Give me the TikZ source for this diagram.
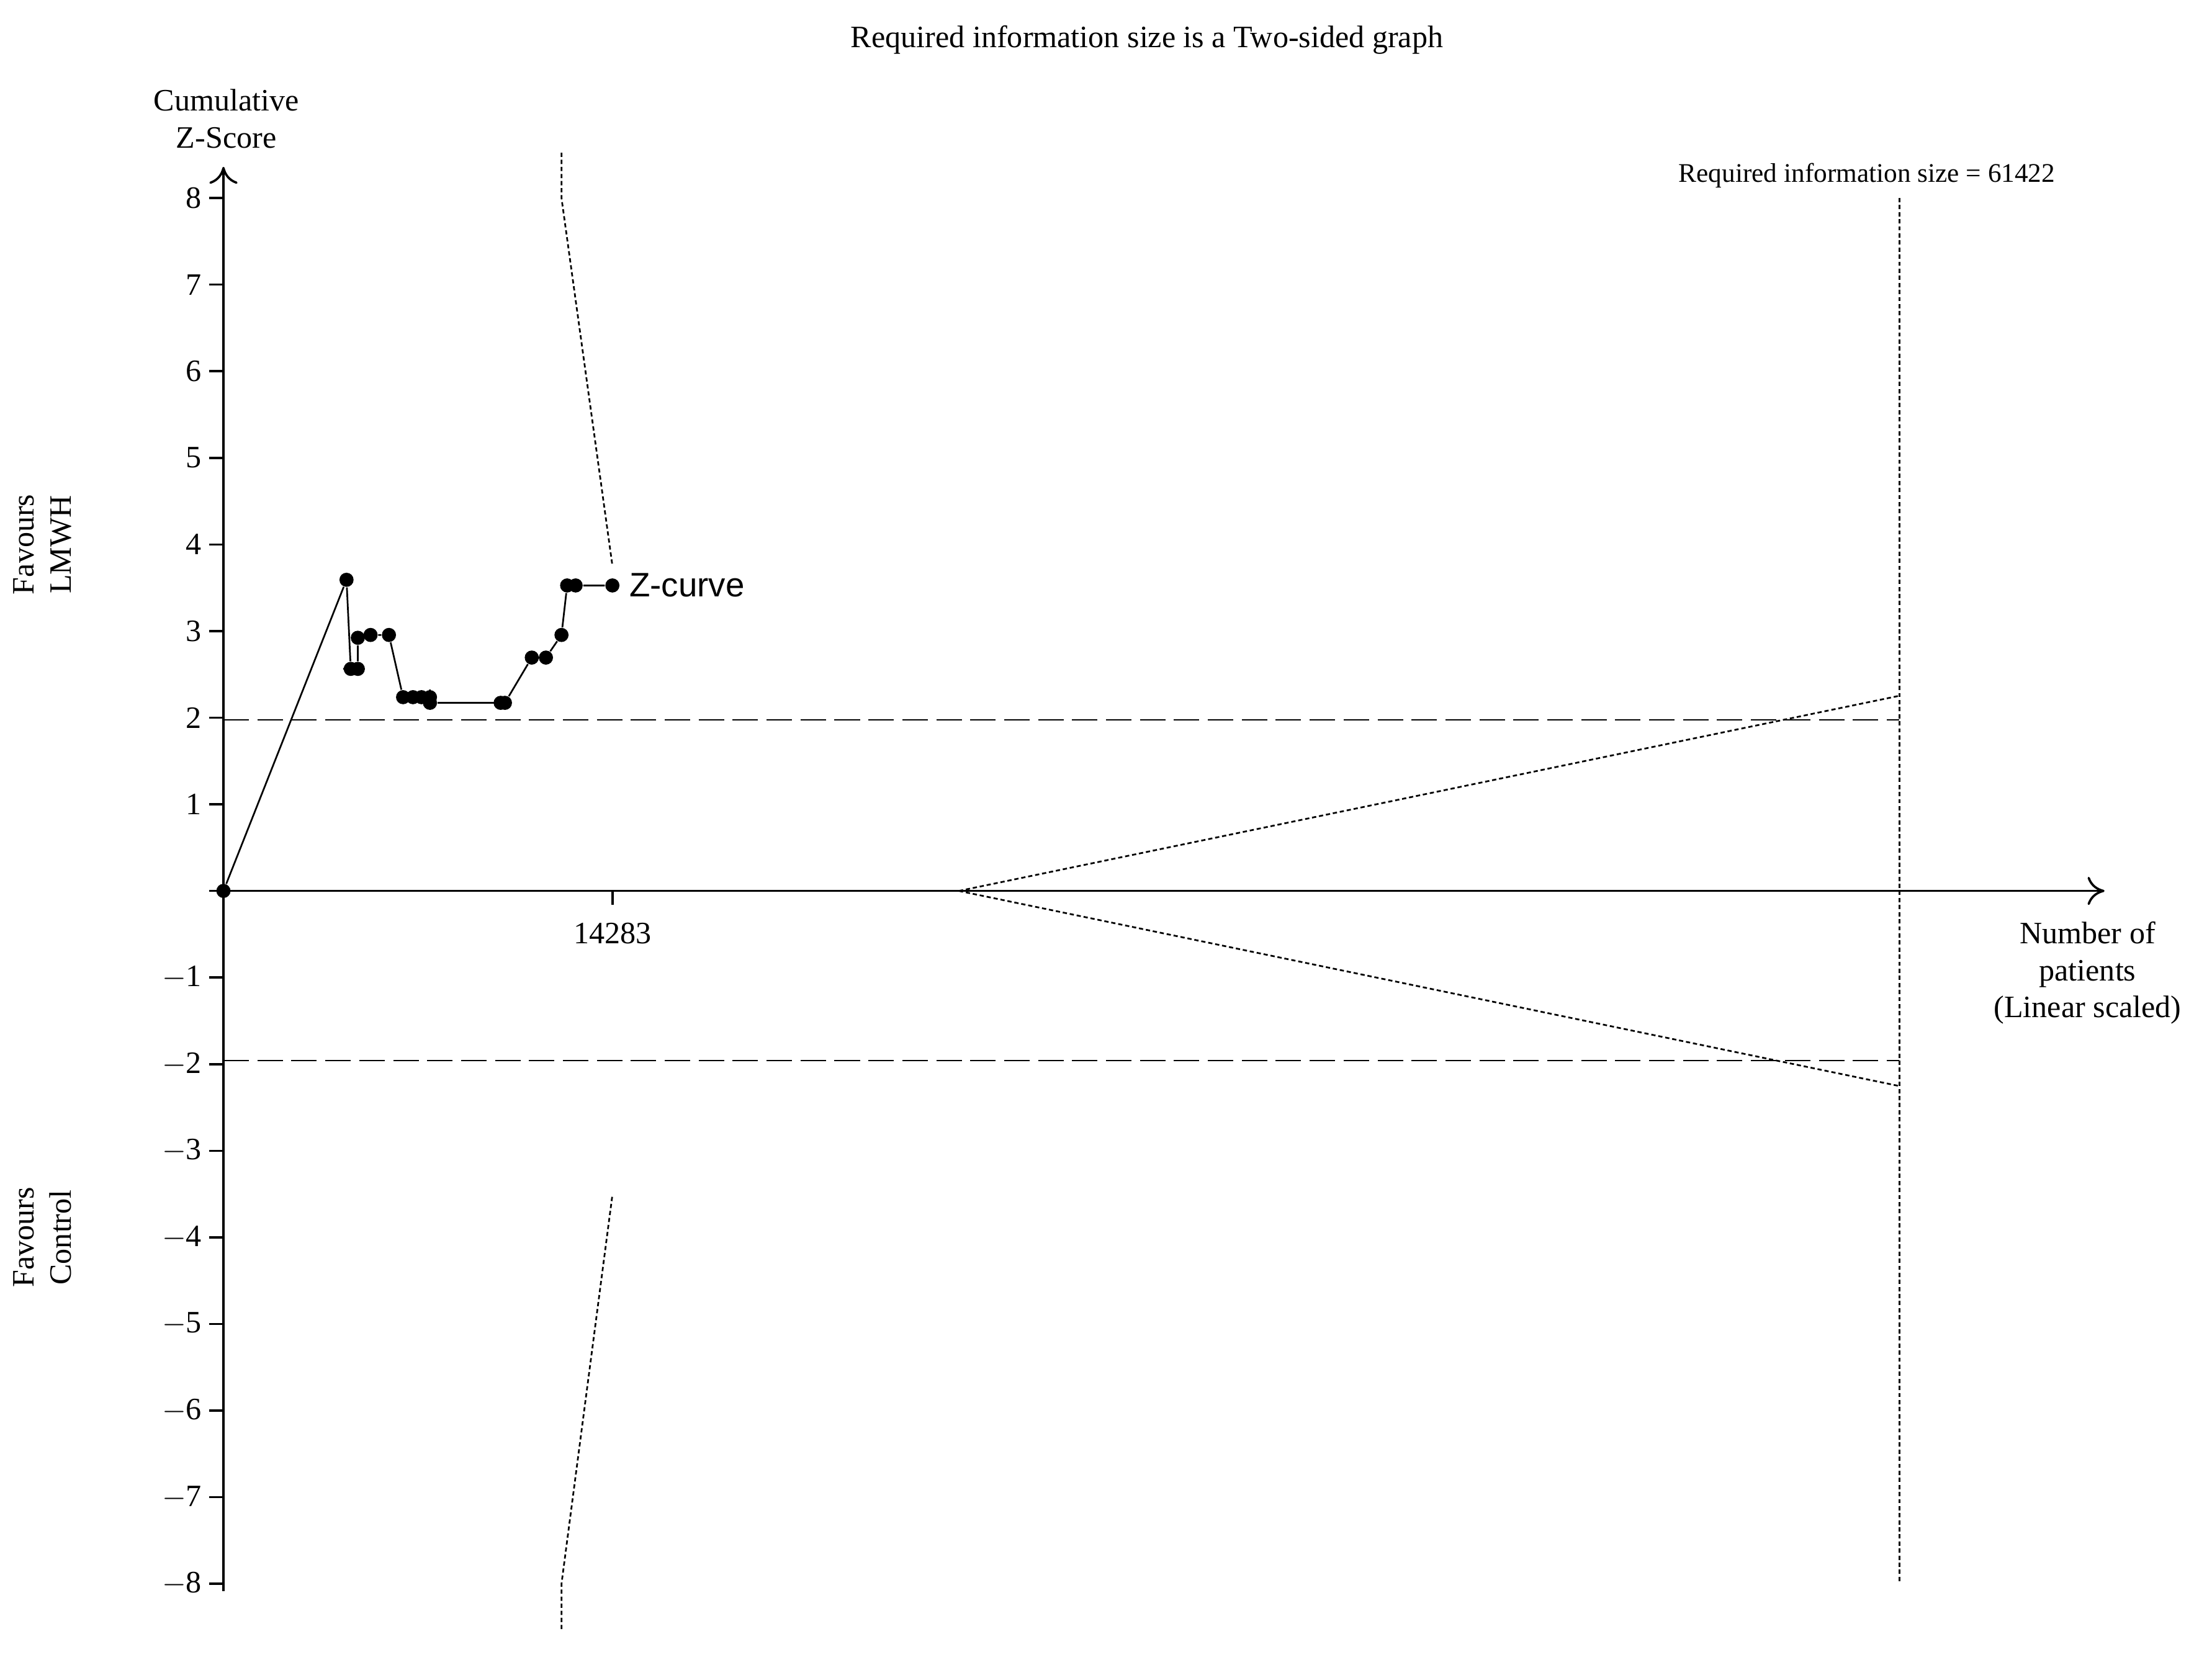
\documentclass[tikz,border=0pt]{standalone}
\usepackage{fontspec}
\usetikzlibrary{arrows.meta}
\setmainfont{Liberation Serif}
\newfontfamily\zsans{Liberation Sans}
\begin{document}
\begin{tikzpicture}[x=0.5pt,y=-0.5pt,
  lbl/.style={font=\fontsize{11}{13}\selectfont, inner sep=1pt},
  bnd/.style={dash pattern=on 1.5pt off 1pt, line width=0.6pt},
  dsh/.style={dash pattern=on 9pt off 3pt, line width=0.6pt},
  dot/.style={circle, fill=black, inner sep=0pt, minimum size=5pt},
  ax/.style={line width=0.8pt}]
\useasboundingbox (0,0) rectangle (1564,1177);
\node[lbl] (title) at (811,28) {Required information size is a Two-sided graph};
% axes
\coordinate (o) at (158,630);
\coordinate (ytop) at (158,118);
\coordinate (ybot) at (158,1125);
\coordinate (xend) at (1488,630);
\draw[ax,-{To[length=6pt,width=10pt]}] (ybot) -- (ytop);
\draw[ax,-{To[length=6pt,width=10pt]}] (o) -- (xend);
\foreach \z in {-8,...,8}{
  \draw[ax] (158,{630-61.25*\z}) -- (148,{630-61.25*\z});
}
\foreach \z in {1,...,8}{\node[lbl,anchor=east] (t\z) at (145,{630-61.25*\z}) {\z};}
\foreach \z in {1,...,8}{\node[lbl,anchor=east] (m\z) at (145,{630+61.25*\z}) {$-$\z};}
\draw[ax] (433,630) -- (433,640);
\node[lbl] (n14283) at (433,660) {14283};
\node[lbl,align=center] (ylab) at (160,84) {Cumulative\\Z-Score};
\node[lbl,align=center,rotate=90] (fl) at (30,385) {Favours\\LMWH};
\node[lbl,align=center,rotate=90] (fc) at (30,875) {Favours\\Control};
\node[lbl,align=center] (xlab) at (1476,688) {Number of\\patients\\(Linear scaled)};
\node[font=\fontsize{9.5}{11}\selectfont] (ris) at (1320,124) {Required information size = 61422};
% horizontal dashed lines
\coordinate (d1a) at (158,509); \coordinate (d1b) at (1343,509);
\coordinate (d2a) at (158,750); \coordinate (d2b) at (1343,750);
\draw[dsh] (d1a) -- (d1b);
\draw[dsh] (d2a) -- (d2b);
% RIS vertical
\coordinate (risT) at (1343,140); \coordinate (risB) at (1343,1120);
\draw[bnd] (risT) -- (risB);
% monitoring boundaries
\coordinate (u0) at (397,108); \coordinate (u1) at (397,140); \coordinate (u2) at (433,400);
\draw[bnd] (u0) -- (u1) -- (u2);
\coordinate (l0) at (397,1152); \coordinate (l1) at (397,1120); \coordinate (l2) at (433,845);
\draw[bnd] (l0) -- (l1) -- (l2);
% futility
\coordinate (f0) at (678,630); \coordinate (fu) at (1343,492); \coordinate (fl2) at (1343,768);
\draw[bnd] (f0) -- (fu); \draw[bnd] (f0) -- (fl2);
% z-curve
\foreach \i/\x/\y in {0/158/630,1/245/410,2/248/473,3/253/473,4/253/451,5/262/449,6/275/449,7/285/493,8/292/493,9/298/493,10/304/493,11/304/497,12/354/497,13/357/497,14/376/465,15/386/465,16/397/449,17/401/414,18/407/414,19/433/414}
  \node[dot] (z\i) at (\x,\y) {};
\draw[line width=0.6pt] (z0)--(z1)--(z2)--(z3)--(z4)--(z5)--(z6)--(z7)--(z8)--(z9)--(z10)--(z11)--(z12)--(z13)--(z14)--(z15)--(z16)--(z17)--(z18)--(z19);
\node[font=\zsans\fontsize{12}{14}\selectfont,anchor=west] (zc) at (438,414) {Z-curve};
\end{tikzpicture}
\end{document}
